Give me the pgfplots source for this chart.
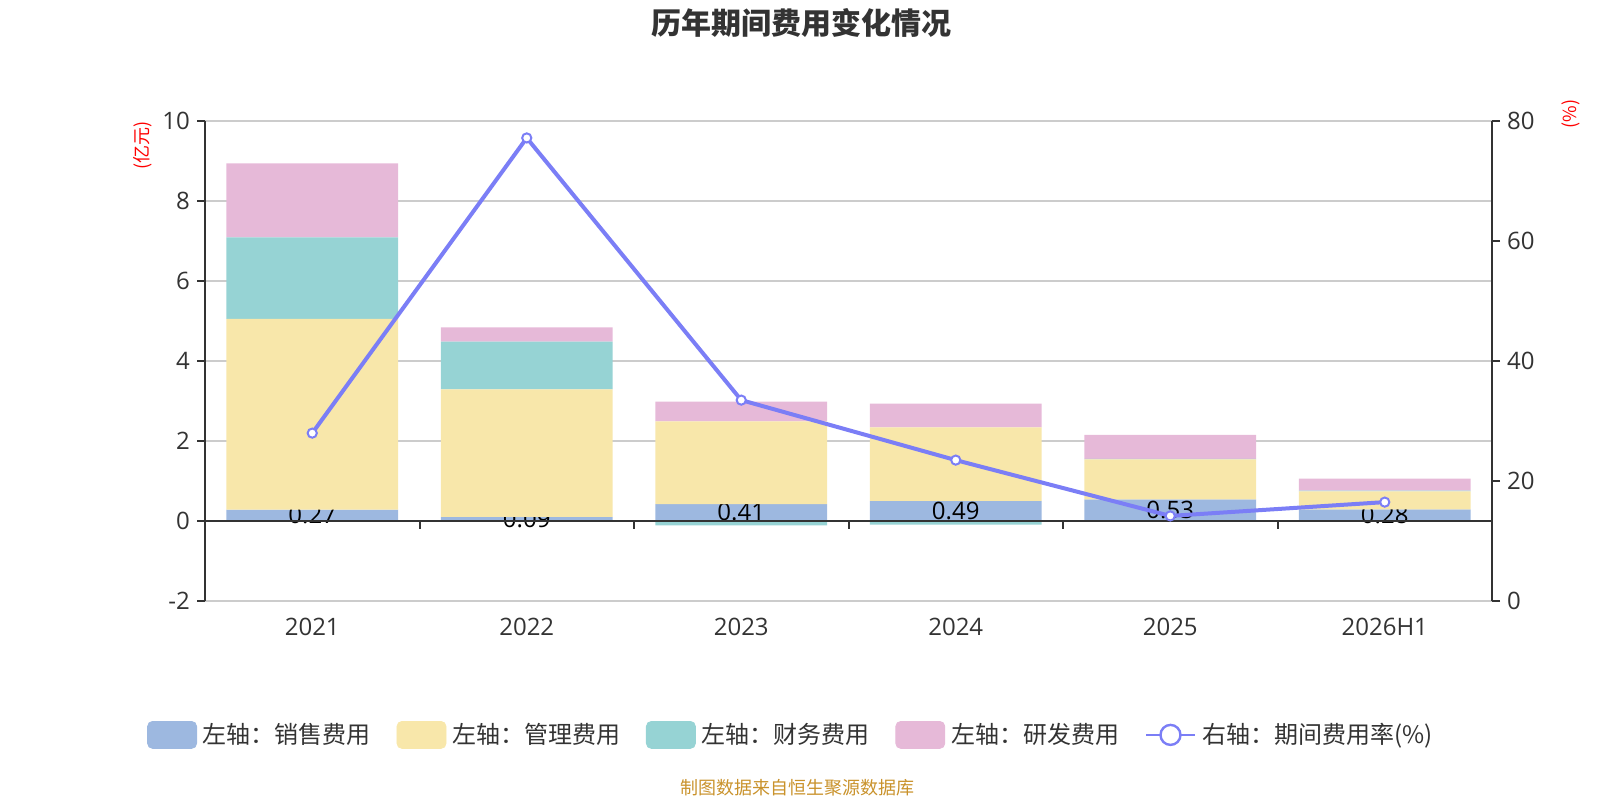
\documentclass[border=0pt]{standalone}
\usepackage{pgfplots}
\pgfplotsset{compat=1.18}
\usepackage{pgfplotstable}
\usepackage{fontspec}
\setmainfont{Open Sans}
\newfontfamily\cjk{Noto Sans CJK SC}
\definecolor{cA}{HTML}{9DB8E0}
\definecolor{cB}{HTML}{F8E7AA}
\definecolor{cC}{HTML}{96D3D4}
\definecolor{cD}{HTML}{E6B9D8}
\definecolor{cL}{HTML}{7B7EF6}
\definecolor{txt}{HTML}{333333}
\definecolor{gridc}{HTML}{CCCCCC}
\definecolor{src}{HTML}{C9922B}

\pgfplotstableread{
x sales admin fin rd
0 0.27 4.77 2.04 1.85
1 0.09 3.19 1.19 0.36
2 0.41 2.07 0.00 0.49
3 0.49 1.84 0.00 0.59
4 0.53 1.00 0.01 0.60
5 0.28 0.45 0.02 0.30
}\bars

\pgfplotstableread{
x finneg
2 -0.12
3 -0.10
}\finneg

\pgfplotstableread{
x ypos lab
0 0.135 0.27
1 0.045 0.09
2 0.205 0.41
3 0.245 0.49
4 0.265 0.53
5 0.140 0.28
}\labs

\pgfplotstableread{
x rate
0 27.9
1 77.1
2 33.4
3 23.4
4 14.1
5 16.4
}\rate

\pgfplotsset{
  common/.style={
    at={(102.5pt,-300.25pt)}, anchor=south west,
    scale only axis, width=643.5pt, height=240pt,
    xmin=-0.5, xmax=5.5,
  }
}

\begin{document}
\begin{tikzpicture}
\useasboundingbox (0pt,0pt) rectangle (800pt,-400pt);

% left axis, grid, sales bars
\begin{axis}[common,
  ymin=-2, ymax=10,
  ybar, bar width=85.8pt, bar shift=0pt,
  axis y line*=left, axis x line*=bottom,
  x axis line style={draw=none},
  y axis line style={txt, line width=1pt},
  xtick={0,...,5}, xticklabels={2021,2022,2023,2024,2025,2026H1},
  xtick style={draw=none},
  ytick={-2,0,...,10},
  tick align=outside, major tick length=4pt,
  ytick style={txt, line width=1pt},
  ymajorgrids, grid style={gridc, line width=1pt},
  tick label style={font=\fontsize{12pt}{14pt}\selectfont, color=txt},
  /pgf/number format/assume math mode=true,
  xticklabel style={yshift=-1.5pt},
]
\addplot[fill=cA, draw=none] table[x=x, y=sales] {\bars};
\end{axis}

% labels of sales bars
\begin{axis}[common, hide axis, ymin=-2, ymax=10, clip=false]
\addplot[draw=none, mark=none,
  nodes near coords, point meta=explicit symbolic,
  nodes near coords style={anchor=center, black, inner sep=0pt,
    font=\fontsize{12pt}{14pt}\selectfont}]
  table[x=x, y=ypos, meta=lab] {\labs};
\end{axis}

% remaining stacked segments
\begin{axis}[common, hide axis,
  ymin=-2, ymax=10,
  ybar stacked, bar width=85.8pt,
]
\addplot[fill=none, draw=none] table[x=x, y=sales] {\bars};
\addplot[fill=cB, draw=none] table[x=x, y=admin] {\bars};
\addplot[fill=cC, draw=none] table[x=x, y=fin] {\bars};
\addplot[fill=cD, draw=none] table[x=x, y=rd] {\bars};
\end{axis}

% negative finance bars and zero line
\begin{axis}[common, hide axis,
  ymin=-2, ymax=10,
  ybar, bar width=85.8pt, bar shift=0pt, clip=false,
]
\addplot[fill=cC, draw=none] table[x=x, y=finneg] {\finneg};
\draw[txt, line width=1pt] (axis cs:-0.5,0) -- (axis cs:5.5,0);
\pgfplotsinvokeforeach{-0.5,0.5,1.5,2.5,3.5,4.5,5.5}{
  \draw[txt, line width=1pt] (axis cs:#1,0) -- ++(0pt,-4pt);
}
\end{axis}

% rate line, right axis
\begin{axis}[common,
  ymin=0, ymax=80,
  axis y line*=right, axis x line=none,
  y axis line style={txt, line width=1pt},
  ytick={0,20,...,80},
  tick align=outside, major tick length=4pt,
  ytick style={txt, line width=1pt},
  tick label style={font=\fontsize{12pt}{14pt}\selectfont, color=txt},
  /pgf/number format/assume math mode=true,
  legend columns=5,
  legend style={at={(0.456,-0.280)}, anchor=center, draw=none, fill=none,
    font=\cjk\fontsize{12pt}{14pt}\selectfont, text=txt,
    /tikz/every even column/.append style={column sep=10.8pt},
    /tikz/every odd column/.append style={column sep=1pt}},
  legend cell align=left,
]
\addlegendimage{legend image code/.code={\fill[cA, rounded corners=2.5pt] (0pt,-6.75pt) rectangle (24.5pt,6.75pt);}}
\addlegendentry{左轴：销售费用}
\addlegendimage{legend image code/.code={\fill[cB, rounded corners=2.5pt] (0pt,-6.75pt) rectangle (24.5pt,6.75pt);}}
\addlegendentry{左轴：管理费用}
\addlegendimage{legend image code/.code={\fill[cC, rounded corners=2.5pt] (0pt,-6.75pt) rectangle (24.5pt,6.75pt);}}
\addlegendentry{左轴：财务费用}
\addlegendimage{legend image code/.code={\fill[cD, rounded corners=2.5pt] (0pt,-6.75pt) rectangle (24.5pt,6.75pt);}}
\addlegendentry{左轴：研发费用}
\addlegendimage{legend image code/.code={\draw[cL, line width=1.2pt] (0pt,0pt) -- (24.5pt,0pt); \draw[cL, line width=1.2pt, fill=white] (12.25pt,0pt) circle (5pt);}}
\addlegendentry{右轴：期间费用率(\%)}
\addplot[forget plot, cL, line width=2pt, mark=*, mark size=2.3pt,
  mark options={fill=white, draw=cL, line width=1pt}]
  table[x=x, y=rate] {\rate};
\end{axis}

\node[font=\cjk\bfseries\fontsize{15pt}{18pt}\selectfont, text=txt] at (400.5pt,-11.5pt) {历年期间费用变化情况};
\node[rotate=90, text=red, font=\cjk\fontsize{9pt}{10pt}\selectfont] at (71.5pt,-72.5pt) {(亿元)};
\node[rotate=90, text=red, font=\cjk\fontsize{9pt}{10pt}\selectfont] at (785.5pt,-57pt) {(\%)};
\node[font=\cjk\fontsize{9pt}{11pt}\selectfont, text=src] at (398.5pt,-394pt) {制图数据来自恒生聚源数据库};
\end{tikzpicture}
\end{document}
